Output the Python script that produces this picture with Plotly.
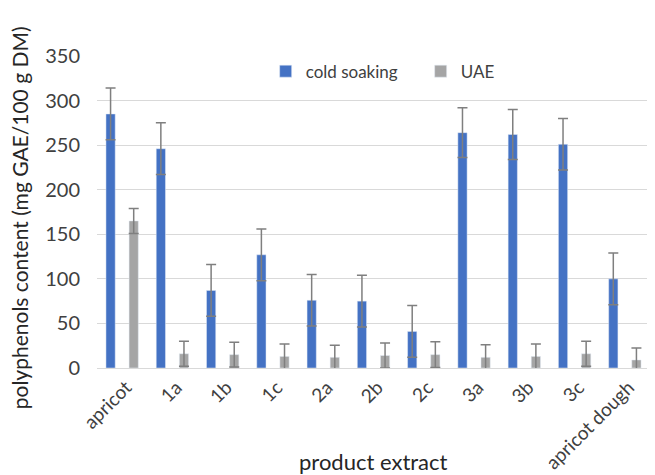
import plotly.graph_objects as go

categories = ["apricot", "1a", "1b", "1c", "2a", "2b", "2c", "3a", "3b", "3c", "apricot dough"]
cold_soaking = [285, 246, 87, 127, 76, 75, 41, 264, 262, 251, 100]
cold_err = [29, 29, 29, 29, 29, 29, 29, 28, 28, 29, 29]
uae = [165, 16, 15, 13, 12, 14, 15, 12, 13, 16, 9]
uae_err = [14, 14, 14, 14, 13.5, 14, 14.5, 14, 14, 14, 13.5]

font_family = "Lato"
err_color = "#7f7f7f"

fig = go.Figure()
fig.add_trace(go.Bar(
    name="cold soaking", x=categories, y=cold_soaking,
    marker=dict(color="#4472C4"),
    error_y=dict(type="data", array=cold_err, color=err_color, thickness=1.5, width=5),
))
fig.add_trace(go.Bar(
    name="UAE", x=categories, y=uae,
    marker=dict(color="#A5A5A5"),
    error_y=dict(type="data", array=uae_err, color=err_color, thickness=1.5, width=5),
))

fig.update_layout(
    width=647, height=467,
    margin=dict(l=89, r=5, t=48, b=107, autoexpand=False),
    paper_bgcolor="white", plot_bgcolor="white",
    barmode="group", bargap=0.08, bargroupgap=0.6,
    font=dict(family=font_family, color="#404040", size=16),
    showlegend=True,
    legend=dict(orientation="h", x=0.305, y=0.95, xanchor="left", yanchor="middle",
                font=dict(size=17, color="#404040"), bgcolor="rgba(0,0,0,0)",
                itemwidth=30, entrywidth=110, entrywidthmode="pixels",
                traceorder="normal"),
    annotations=[
        dict(text="polyphenols content (mg GAE/100 g DM)", xref="paper", yref="paper",
             x=-0.141, y=0.48, xanchor="center", yanchor="middle", textangle=-90,
             showarrow=False, font=dict(size=21, color="#262626")),
        dict(text="product extract", xref="paper", yref="paper",
             x=0.5, y=-0.30, xanchor="center", yanchor="middle",
             showarrow=False, font=dict(size=22, color="#262626")),
    ],
)
fig.update_yaxes(
    range=[0, 350], dtick=50, showgrid=True, gridcolor="#d9d9d9", gridwidth=1,
    zeroline=False, showline=False, ticks="", ticklabelstandoff=16, automargin=False,
    tickfont=dict(size=20, color="#404040"),
)
fig.update_xaxes(
    showline=True, linecolor="#d9d9d9", linewidth=1, ticks="", tickangle=-45,
    ticklabelstandoff=0, ticklabelshift=4, automargin=False,
    tickfont=dict(size=19, color="#404040"),
)

fig.write_html("out.html")
